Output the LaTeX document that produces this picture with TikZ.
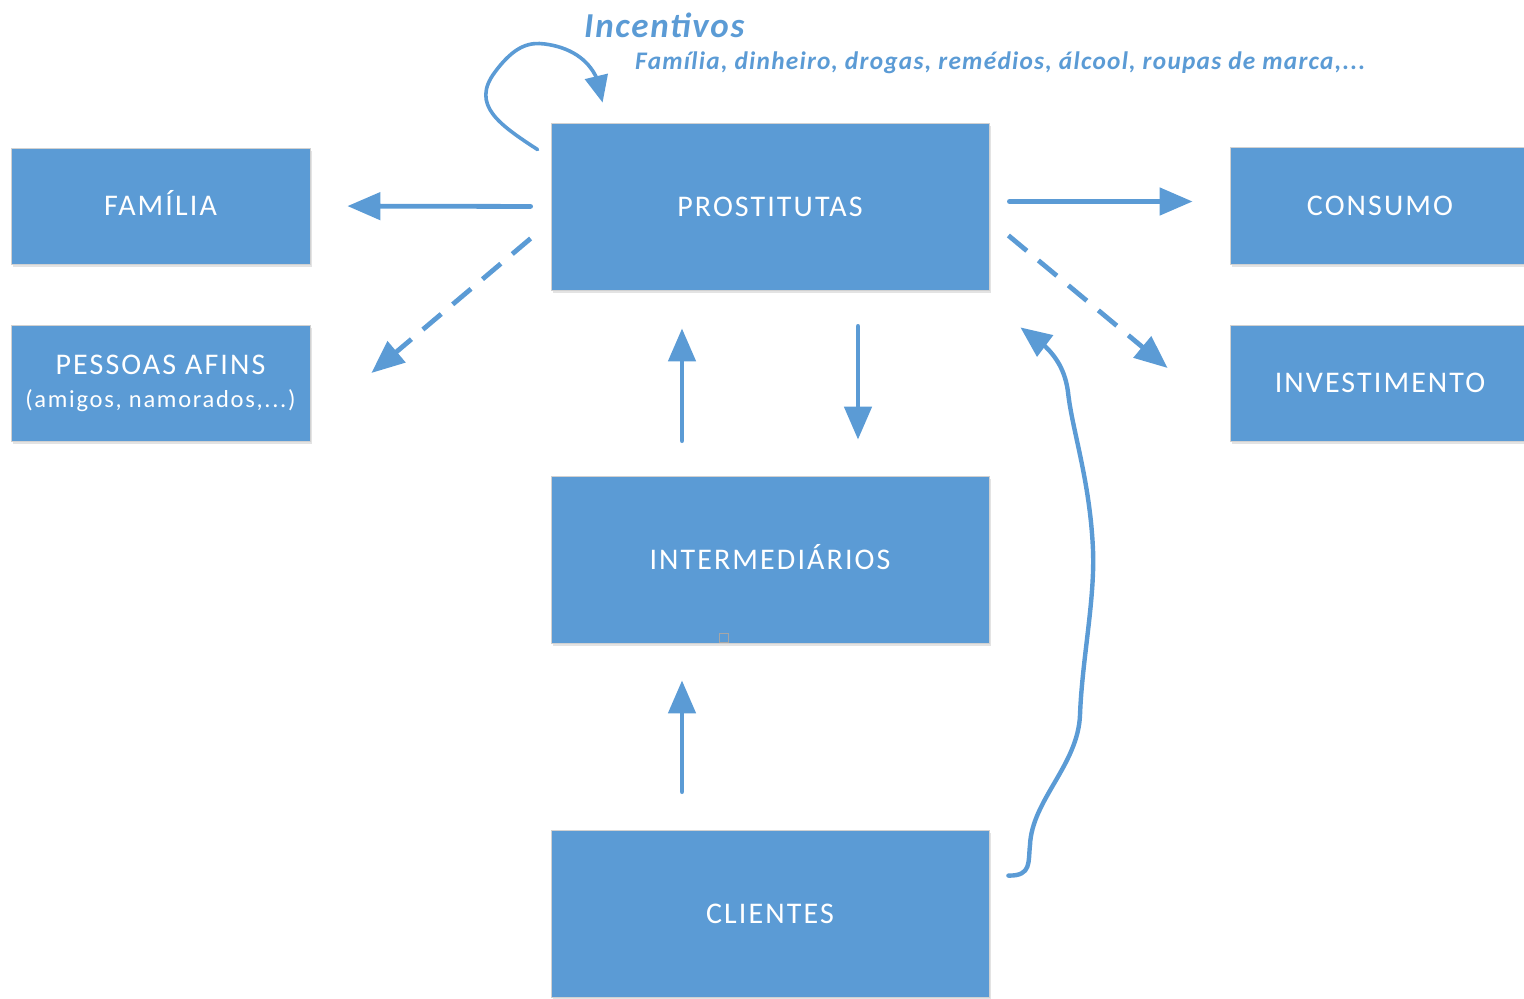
\documentclass[tikz,border=0pt]{standalone}
\usepackage{fontspec}
\setmainfont{Carlito}
\newfontfamily\boxfont[LetterSpace=7]{Carlito}
\newfontfamily\incfont[LetterSpace=5]{Carlito}
\usetikzlibrary{arrows.meta,calc,bending,shadows}
\definecolor{bblue}{HTML}{5B9BD5}
\tikzset{
  bx/.style={fill=bblue, draw=black!18, line width=0.8pt, inner sep=0pt, text=white,
    font=\boxfont\fontsize{30}{36}\selectfont, align=center,
    drop shadow={shadow xshift=1.5pt, shadow yshift=-2.5pt, opacity=0.18, fill=black!60}},
  one/.style={text height=19.5pt, text depth=0pt},
  conn/.style={draw=bblue, line width=4.8pt, line cap=round, -{Triangle[length=33pt,width=27pt]}},
  dconn/.style={conn, line cap=butt, dash pattern=on 24pt off 15pt},
}
\begin{document}
\begin{tikzpicture}[x=1pt,y=-1pt]
\path[use as bounding box] (0,0) rectangle (1524,999);
\node[bx, one, minimum width=299pt, minimum height=116pt] (fam) at (160.5,206) {FAMÍLIA};
\node[bx, minimum width=299pt, minimum height=116pt] (pes) at (160.5,383)
  {PESSOAS AFINS\\[-3pt]{\fontsize{24.5}{30}\selectfont (amigos, namorados,...)}};
\node[bx, one, minimum width=438pt, minimum height=167pt] (pros) at (770,206.5) {PROSTITUTAS};
\node[bx, one, minimum width=438pt, minimum height=167pt] (inter) at (770,559.5) {INTERMEDIÁRIOS};
\node[bx, one, minimum width=438pt, minimum height=167pt] (cli) at (770,913.5) {CLIENTES};
\node[bx, one, minimum width=300pt, minimum height=117pt] (cons) at (1380,205.5) {CONSUMO};
\node[bx, one, minimum width=300pt, minimum height=116pt] (inv) at (1380,383) {INVESTIMENTO};
\node[draw=black!35, line width=0.8pt, minimum size=9pt, inner sep=0pt] (hdl) at (724,638) {};
% titles
\node[anchor=base west, inner sep=0pt, text=bblue, font=\incfont\bfseries\itshape\fontsize{35}{40}\selectfont] (inc) at (584,37) {Incentivos};
\node[anchor=base west, inner sep=0pt, text=bblue, font=\incfont\bfseries\itshape\fontsize{25.3}{30}\selectfont] (incd) at (635,69) {Família, dinheiro, drogas, remédios, álcool, roupas de marca,...};
% connectors
\draw[conn, shorten <=20pt, shorten >=37pt] (pros.west) -- (fam.east);
\draw[dconn] ([xshift=-20pt,yshift=-32pt]pros.west) -- ([xshift=61pt,yshift=10pt]pes.east);
\draw[conn] ([xshift=20pt,yshift=5pt]pros.east) -- ([xshift=-37pt,yshift=4pt]cons.west);
\draw[dconn] ([xshift=19pt,yshift=-29pt]pros.east) -- ([xshift=-62pt,yshift=15pt]inv.west);
\draw[conn] ([xshift=-88pt,yshift=35pt]inter.north) -- ([xshift=-88pt,yshift=-38pt]pros.south);
\draw[conn] ([xshift=88pt,yshift=-36pt]pros.south) -- ([xshift=88pt,yshift=36pt]inter.north);
\draw[conn] ([xshift=-88pt,yshift=38pt]cli.north) -- ([xshift=-88pt,yshift=-37pt]inter.south);
\draw[conn, line width=3.6pt, -{Triangle[length=27pt,width=23pt]}] ([xshift=-13pt,yshift=-27pt]pros.north west)
  .. controls (500,125) and (470,105) .. (495,72)
  .. controls (515,45) and (530,42) .. (545,44)
  .. controls (575,48) and (600,65) .. ([xshift=52pt,yshift=20pt]pros.north west);
\draw[conn, line width=4.4pt, -{Triangle[length=31pt,width=26pt]}] ([xshift=19pt,yshift=-46pt]cli.north east)
  .. controls (1032,876) and (1028,862) .. (1030,845)
  .. controls (1032,800) and (1078,765) .. (1080,715)
  .. controls (1082,660) and (1095,600) .. (1093,550)
  .. controls (1090,480) and (1072,430) .. (1068,392)
  .. controls (1064,362) and (1048,345) .. ([xshift=31pt,yshift=-37pt]pros.south east);
\end{tikzpicture}
\end{document}
